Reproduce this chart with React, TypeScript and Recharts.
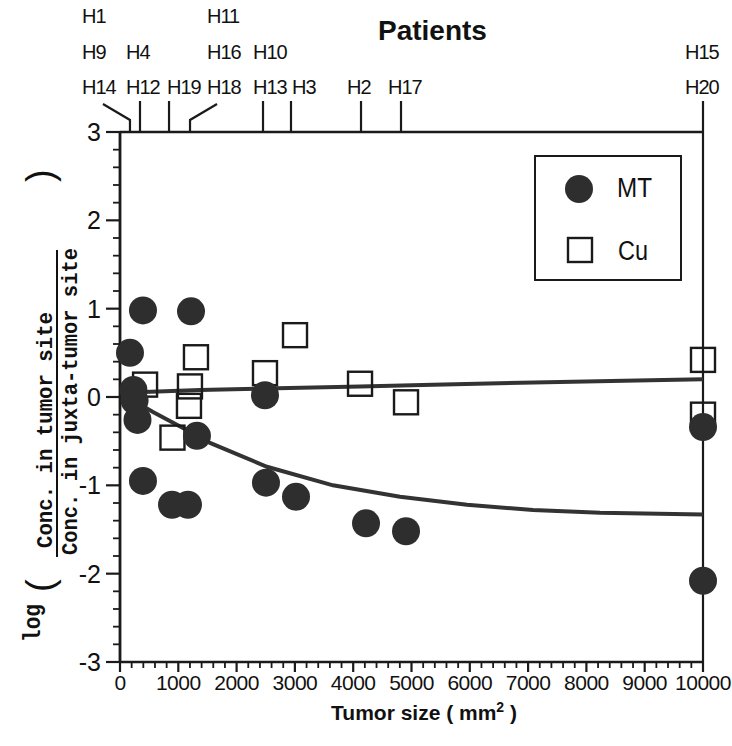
import { Customized, Legend, ReferenceLine, Scatter, ScatterChart, XAxis, YAxis } from "recharts";

// tick labels
const xTickLabels = [0, 1000, 2000, 3000, 4000, 5000, 6000, 7000, 8000, 9000, 10000];
const yTickLabels = [-3, -2, -1, 0, 1, 2, 3];

// patients on the top axis (tumor size, mm2)
const patientSizes = [171, 343, 841, 1201, 2453, 2933, 4134, 4820, 10000];
const patientNames = [
  ["H1", "H9", "H14"],
  ["H4", "H12"],
  ["H19"],
  ["H11", "H16", "H18"],
  ["H10", "H13"],
  ["H3"],
  ["H2"],
  ["H17"],
  ["H15", "H20"],
];

// MT: log(tumor / juxta-tumor)
const mtSize = [171, 230, 250, 300, 394, 1218, 394, 892, 1166, 1320, 2487, 2504, 3019, 4220, 4906, 10000, 10000];
const mtRatio = [0.5, 0.08, -0.04, -0.26, 0.98, 0.97, -0.95, -1.22, -1.22, -0.44, 0.02, -0.97, -1.13, -1.43, -1.52, -0.34, -2.08];

// Cu
const cuSize = [430, 1303, 1200, 1183, 900, 2487, 3002, 4117, 4906, 10000, 10000];
const cuRatio = [0.14, 0.45, 0.12, -0.1, -0.46, 0.27, 0.7, 0.15, -0.06, 0.42, -0.2];

// fitted curves
const mtFitSize = [171, 566, 1080, 1544, 2521, 3654, 4803, 5952, 7084, 8233, 10000];
const mtFitRatio = [-0.02, -0.17, -0.35, -0.52, -0.79, -1.0, -1.13, -1.22, -1.28, -1.31, -1.33];
const cuFitSize = [171, 1372, 4117, 5370, 9090, 10000];
const cuFitRatio = [0.05, 0.08, 0.12, 0.14, 0.19, 0.2];

const zip = (xs: number[], ys: number[]) => xs.map((x, i) => ({ x, y: ys[i] }));
const mtData = zip(mtSize, mtRatio);
const cuData = zip(cuSize, cuRatio);
const mtFit = zip(mtFitSize, mtFitRatio);
const cuFit = zip(cuFitSize, cuFitRatio);
const patientData = patientSizes.map((x) => ({ x, y: 3 }));

const xTicks: number[] = [];
xTickLabels.slice(0, -1).forEach((v) => [0, 200, 400, 600, 800].forEach((d) => xTicks.push(v + d)));
xTicks.push(10000);
const yTicks: number[] = [];
yTickLabels.slice(0, -1).forEach((v) => [0, 1, 2, 3, 4].forEach((d) => yTicks.push(v + d / 5)));
yTicks.push(3);

// label placement for the patient stacks: left edge offset and bend of the tick
const tickLayout = [
  { dx: -48, bend: -27 },
  { dx: -14, bend: 0 },
  { dx: -2, bend: 0 },
  { dx: 17, bend: 27 },
  { dx: -10, bend: 0 },
  { dx: 1, bend: 0 },
  { dx: -14, bend: 0 },
  { dx: -13, bend: 0 },
  { dx: -18, bend: 0 },
];

const SANS = "'Liberation Sans', Arial, Helvetica, sans-serif";
const MONO = "'Liberation Mono', 'DejaVu Sans Mono', monospace";
const INK = "#1a1a1a";

function BottomTick(props: any) {
  const { x, y, payload } = props;
  const v = payload.value as number;
  const major = v % 1000 === 0;
  return (
    <g>
      <line x1={x} x2={x} y1={y} y2={y + (major ? 10 : 6)} stroke={INK} strokeWidth={major ? 2.2 : 1.8} />
      {major && (
        <text x={x} y={y + 28} textAnchor="middle" fontSize={21} letterSpacing={-0.5} fontFamily={SANS} fill="#111">
          {v}
        </text>
      )}
    </g>
  );
}

function LeftTick(props: any) {
  const { x, y, payload } = props;
  const v = payload.value as number;
  const major = Math.abs(v - Math.round(v)) < 1e-6;
  return (
    <g>
      <line x1={x} x2={x - (major ? 14 : 7)} y1={y} y2={y} stroke={INK} strokeWidth={major ? 2.2 : 1.8} />
      {major && (
        <text x={x - 19} y={y + 9} textAnchor="end" fontSize={25} fontFamily={SANS} fill="#111">
          {Math.round(v)}
        </text>
      )}
    </g>
  );
}

function PatientTick(props: any) {
  const { x, y, payload } = props;
  const i = patientSizes.indexOf(payload.value);
  if (i < 0) return <g />;
  const names = patientNames[i];
  const { dx, bend } = tickLayout[i];
  const d = bend !== 0 ? `M${x},${y} L${x},${y - 12} L${x + bend},${y - 28}` : `M${x},${y} L${x},${y - 31}`;
  return (
    <g>
      <path d={d} stroke={INK} strokeWidth={2.2} fill="none" />
      {names.map((n, k) => (
        <text
          key={n}
          x={x + dx}
          y={y - 38 - 35.5 * (names.length - 1 - k)}
          fontSize={20}
          letterSpacing={-1}
          fontFamily={SANS}
          fill="#111"
        >
          {n}
        </text>
      ))}
    </g>
  );
}

const Dot = (p: any) => <circle cx={p.cx} cy={p.cy} r={14} fill="#2e2e2e" />;
const Box = (p: any) => (
  <rect x={p.cx - 12} y={p.cy - 12} width={24} height={24} fill="none" stroke={INK} strokeWidth={2.4} />
);
const NoDot = () => <g />;

function Titles() {
  return (
    <g>
      <text x={378} y={40} fontSize={28} fontWeight="bold" fontFamily={SANS} fill="#111">
        Patients
      </text>
      <text x={424} y={720} textAnchor="middle" fontSize={21} fontWeight="bold" fontFamily={SANS} fill="#111">
        Tumor size ( mm<tspan dy={-8} fontSize={14}>2</tspan>
        <tspan dy={8}> )</tspan>
      </text>
      <g transform="rotate(-90)" fontFamily={MONO} fill="#111" fontWeight="bold">
        <text x={-642} y={40} fontSize={23} textLength={38} lengthAdjust="spacingAndGlyphs">
          log
        </text>
        <text x={-592} y={53} fontSize={38} fontWeight="normal" fontFamily={SANS}>
          (
        </text>
        <text x={-548} y={52} fontSize={22} textLength={236} lengthAdjust="spacingAndGlyphs">
          Conc. in tumor site
        </text>
        <line x1={-557} x2={-250} y1={57} y2={57} stroke="#111" strokeWidth={2} />
        <text x={-555} y={77} fontSize={22} textLength={307} lengthAdjust="spacingAndGlyphs">
          Conc. in juxta-tumor site
        </text>
        <text x={-182} y={53} fontSize={38} fontWeight="normal" fontFamily={SANS}>
          )
        </text>
      </g>
    </g>
  );
}

function LegendBox() {
  return (
    <div style={{ width: 148, height: 126, border: `2px solid ${INK}`, boxSizing: "border-box", background: "#fff" }}>
      <svg width={144} height={122} style={{ display: "block" }}>
        <circle cx={43} cy={32} r={14} fill="#2e2e2e" />
        <text x={81} y={40} fontSize={27} textLength={35} lengthAdjust="spacingAndGlyphs" fontFamily={SANS} fill="#111">
          MT
        </text>
        <rect x={32} y={81} width={24} height={24} fill="none" stroke={INK} strokeWidth={2.4} />
        <text x={82} y={103} fontSize={27} textLength={30} lengthAdjust="spacingAndGlyphs" fontFamily={SANS} fill="#111">
          Cu
        </text>
      </svg>
    </div>
  );
}

export default function App() {
  return (
    <div style={{ position: "absolute", left: 0, top: 0, width: 732, height: 746, background: "#fff" }}>
      <ScatterChart width={732} height={746} margin={{ top: 102, right: 29, bottom: 44, left: 60 }}>
        <XAxis
          dataKey="x"
          type="number"
          domain={[0, 10000]}
          ticks={xTicks}
          interval={0}
          height={40}
          tickSize={0}
          tickMargin={0}
          tickLine={false}
          axisLine={{ stroke: INK, strokeWidth: 2.5 }}
          tick={(p: any) => <BottomTick {...p} />}
        />
        <XAxis
          xAxisId="top"
          dataKey="x"
          orientation="top"
          type="number"
          domain={[0, 10000]}
          ticks={patientSizes}
          interval={0}
          height={30}
          tickSize={0}
          tickMargin={0}
          tickLine={false}
          axisLine={{ stroke: INK, strokeWidth: 2.5 }}
          tick={(p: any) => <PatientTick {...p} />}
        />
        <YAxis
          dataKey="y"
          type="number"
          domain={[-3, 3]}
          ticks={yTicks}
          interval={0}
          width={60}
          tickSize={0}
          tickMargin={0}
          tickLine={false}
          axisLine={{ stroke: INK, strokeWidth: 2.8 }}
          tick={(p: any) => <LeftTick {...p} />}
        />
        <ReferenceLine x={10000} stroke={INK} strokeWidth={2.2} />
        <Scatter
          name="Patients"
          xAxisId="top"
          data={patientData}
          shape={NoDot}
          legendType="none"
          isAnimationActive={false}
        />
        <Scatter
          name="Cu fit"
          data={cuFit}
          line={{ stroke: "#333", strokeWidth: 4 }}
          shape={NoDot}
          legendType="none"
          isAnimationActive={false}
        />
        <Scatter
          name="MT fit"
          data={mtFit}
          line={{ stroke: "#333", strokeWidth: 4 }}
          shape={NoDot}
          legendType="none"
          isAnimationActive={false}
        />
        <Scatter name="Cu" data={cuData} shape={Box} isAnimationActive={false} />
        <Scatter name="MT" data={mtData} shape={Dot} isAnimationActive={false} />
        <Legend
          layout="vertical"
          align="center"
          verticalAlign="middle"
          width={148}
          height={126}
          wrapperStyle={{ left: 534, top: 155, width: 148, height: 126 }}
          content={() => <LegendBox />}
        />
        <Customized component={Titles} />
      </ScatterChart>
    </div>
  );
}
